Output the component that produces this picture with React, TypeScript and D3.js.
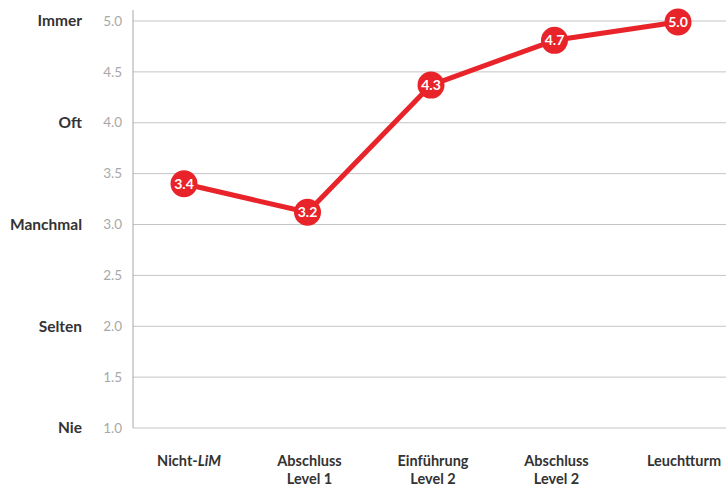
import React from "react";
import * as d3 from "d3";

const categories: string[][] = [["Nicht-", "LiM"], ["Abschluss", "Level 1"], ["Einführung", "Level 2"], ["Abschluss", "Level 2"], ["Leuchtturm"]];
const values: number[] = [3.4, 3.12, 4.37, 4.81, 4.99];
const valueLabels: string[] = ["3.4", "3.2", "4.3", "4.7", "5.0"];
const yTicks: number[] = [1.0, 1.5, 2.0, 2.5, 3.0, 3.5, 4.0, 4.5, 5.0];
const verbalLabels: { v: number; t: string }[] = [
  { v: 5, t: "Immer" },
  { v: 4, t: "Oft" },
  { v: 3, t: "Manchmal" },
  { v: 2, t: "Selten" },
  { v: 1, t: "Nie" },
];

const W = 726;
const H = 485;
const red = "#e8242a";

export default function App() {
  const keys = categories.map((_, i) => String(i));
  const x = d3.scalePoint<string>().domain(keys).range([184, 678]);
  const y = d3.scaleLinear().domain([1, 5]).range([428, 21]);
  const line = d3
    .line<number>()
    .x((_, i) => x(String(i)) as number)
    .y((d) => y(d));
  const font = "Lato, 'Open Sans', sans-serif";
  return (
    <svg width={W} height={H} style={{ position: "absolute", left: 0, top: 0, fontFamily: font }}>
      <rect width={W} height={H} fill="#fff" />
      {yTicks.map((t) => (
        <g key={t}>
          <line x1={133} x2={W} y1={y(t)} y2={y(t)} stroke="#c4c4c4" strokeWidth={1} />
          <text x={122} y={y(t)} dy="0.35em" textAnchor="end" fontSize={13.5} fill="#a8a8a8">
            {t.toFixed(1)}
          </text>
        </g>
      ))}
      <line x1={133} x2={133} y1={10} y2={428} stroke="#a8a8a8" strokeWidth={1} />
      {verbalLabels.map((d) => (
        <text key={d.t} x={82} y={y(d.v)} dy="0.35em" textAnchor="end" fontSize={15.5} fontWeight={700} fill="#333">
          {d.t}
        </text>
      ))}
      {categories.map((c, i) => {
        const cx = (x(String(i)) as number) + (i === 0 ? 5 : i === 4 ? 6 : 2);
        if (i === 0) {
          return (
            <text key={i} x={cx} y={466} textAnchor="middle" fontSize={14.5} fontWeight={700} fill="#333">
              {c[0]}
              <tspan fontStyle="italic">{c[1]}</tspan>
            </text>
          );
        }
        return (
          <text key={i} x={cx} y={466} textAnchor="middle" fontSize={14.5} fontWeight={700} fill="#333">
            {c.map((l, j) => (
              <tspan key={j} x={cx} dy={j === 0 ? 0 : 17.5}>
                {l}
              </tspan>
            ))}
          </text>
        );
      })}
      <path d={line(values) || ""} fill="none" stroke={red} strokeWidth={5} strokeLinejoin="round" />
      {values.map((v, i) => (
        <g key={i}>
          <circle cx={x(String(i)) as number} cy={y(v)} r={13.5} fill={red} />
          <text x={x(String(i)) as number} y={y(v)} dy="0.36em" textAnchor="middle" fontSize={14} fontWeight={700} fill="#fff">
            {valueLabels[i]}
          </text>
        </g>
      ))}
    </svg>
  );
}
